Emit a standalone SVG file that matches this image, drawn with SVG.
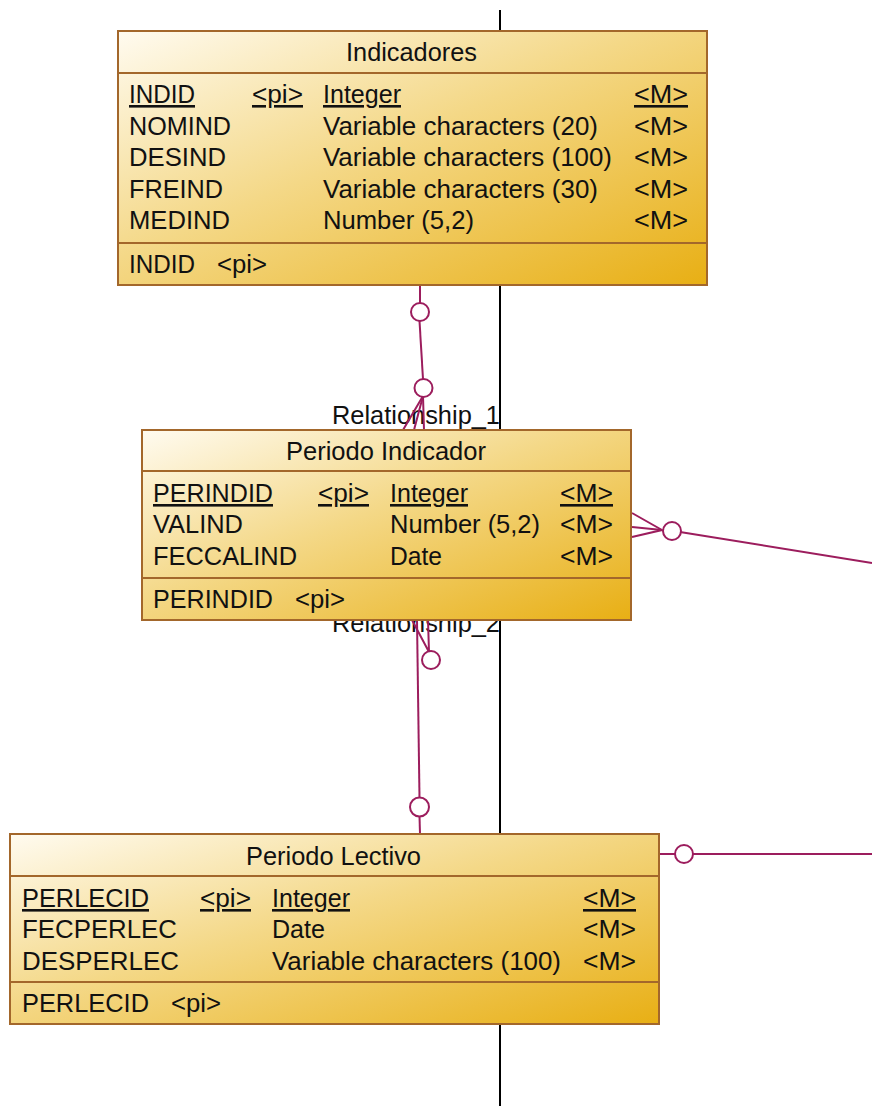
<svg xmlns="http://www.w3.org/2000/svg" width="872" height="1106" viewBox="0 0 872 1106">
<defs>
<linearGradient id="g" x1="0" y1="0" x2="1" y2="1">
<stop offset="0" stop-color="#FFFBF0"/>
<stop offset="0.45" stop-color="#F4D887"/>
<stop offset="1" stop-color="#E8AF14"/>
</linearGradient>
</defs>
<style>
.box{fill:url(#g);stroke:#A3672B;stroke-width:2}
.sep{stroke:#A3672B;stroke-width:2}
text{font-family:"Liberation Sans",Arial,sans-serif;font-size:26px;fill:#111}
.u{text-decoration:underline}
.c{fill:none;stroke:#9C1D5D;stroke-width:2}
.o{fill:#fff;stroke:#9C1D5D;stroke-width:2}
</style>
<rect width="872" height="1106" fill="#fff"/>
<line x1="500" y1="10" x2="500" y2="1106" stroke="#000" stroke-width="2"/>
<g id="labels">
<text x="332" y="424" textLength="168" lengthAdjust="spacingAndGlyphs">Relationship_1</text>
<text x="332" y="632" textLength="168" lengthAdjust="spacingAndGlyphs">Relationship_2</text>
</g>
<g id="connectors">
<line class="c" x1="420" y1="285" x2="420" y2="303"/>
<line class="c" x1="419.5" y1="321" x2="423" y2="379"/>
<circle class="o" cx="420" cy="312" r="9"/>
<polyline class="c" points="403,430 423,396 424,430"/>
<line class="c" x1="423" y1="396" x2="414" y2="430"/>
<circle class="o" cx="423.5" cy="388" r="9"/>
<line class="c" x1="417" y1="620" x2="419.5" y2="798"/>
<polyline class="c" points="412,620 429,652 428,620"/>
<circle class="o" cx="431" cy="660" r="9"/>
<line class="c" x1="419.5" y1="816" x2="420" y2="834"/>
<circle class="o" cx="419.5" cy="807" r="9.5"/>
<polyline class="c" points="632,513 662,530 632,537"/>
<line class="c" x1="632" y1="527" x2="662" y2="530"/>
<line class="c" x1="680" y1="532" x2="872" y2="563"/>
<circle class="o" cx="672" cy="531" r="9"/>
<line class="c" x1="659" y1="854" x2="675" y2="854"/>
<line class="c" x1="693" y1="854" x2="872" y2="854"/>
<circle class="o" cx="684" cy="854" r="9"/>
</g>
<g id="indicadores">
<rect class="box" x="118" y="31" width="589" height="254"/>
<line class="sep" x1="118" y1="73" x2="707" y2="73"/>
<line class="sep" x1="118" y1="243" x2="707" y2="243"/>
<text x="346" y="61" textLength="131" lengthAdjust="spacingAndGlyphs">Indicadores</text>
<text class="u" x="129" y="103" textLength="66" lengthAdjust="spacingAndGlyphs">INDID</text>
<text class="u" x="252" y="103" textLength="51" lengthAdjust="spacingAndGlyphs">&lt;pi&gt;</text>
<text class="u" x="323" y="103" textLength="78" lengthAdjust="spacingAndGlyphs">Integer</text>
<text class="u" x="634" y="103" textLength="54" lengthAdjust="spacingAndGlyphs">&lt;M&gt;</text>
<text x="129" y="135" textLength="102" lengthAdjust="spacingAndGlyphs">NOMIND</text>
<text x="323" y="135" textLength="275" lengthAdjust="spacingAndGlyphs">Variable characters (20)</text>
<text x="634" y="135" textLength="54" lengthAdjust="spacingAndGlyphs">&lt;M&gt;</text>
<text x="129" y="166" textLength="97" lengthAdjust="spacingAndGlyphs">DESIND</text>
<text x="323" y="166" textLength="289" lengthAdjust="spacingAndGlyphs">Variable characters (100)</text>
<text x="634" y="166" textLength="54" lengthAdjust="spacingAndGlyphs">&lt;M&gt;</text>
<text x="129" y="198" textLength="94" lengthAdjust="spacingAndGlyphs">FREIND</text>
<text x="323" y="198" textLength="275" lengthAdjust="spacingAndGlyphs">Variable characters (30)</text>
<text x="634" y="198" textLength="54" lengthAdjust="spacingAndGlyphs">&lt;M&gt;</text>
<text x="129" y="229" textLength="101" lengthAdjust="spacingAndGlyphs">MEDIND</text>
<text x="323" y="229" textLength="151" lengthAdjust="spacingAndGlyphs">Number (5,2)</text>
<text x="634" y="229" textLength="54" lengthAdjust="spacingAndGlyphs">&lt;M&gt;</text>
<text x="129" y="273" textLength="66" lengthAdjust="spacingAndGlyphs">INDID</text>
<text x="217" y="273" textLength="50" lengthAdjust="spacingAndGlyphs">&lt;pi&gt;</text>
</g>
<g id="periodo-indicador">
<rect class="box" x="142" y="430" width="489" height="190"/>
<line class="sep" x1="142" y1="471" x2="631" y2="471"/>
<line class="sep" x1="142" y1="578" x2="631" y2="578"/>
<text x="286" y="460" textLength="200" lengthAdjust="spacingAndGlyphs">Periodo Indicador</text>
<text class="u" x="153" y="502" textLength="120" lengthAdjust="spacingAndGlyphs">PERINDID</text>
<text class="u" x="318" y="502" textLength="51" lengthAdjust="spacingAndGlyphs">&lt;pi&gt;</text>
<text class="u" x="390" y="502" textLength="78" lengthAdjust="spacingAndGlyphs">Integer</text>
<text class="u" x="560" y="502" textLength="53" lengthAdjust="spacingAndGlyphs">&lt;M&gt;</text>
<text x="153" y="533" textLength="90" lengthAdjust="spacingAndGlyphs">VALIND</text>
<text x="390" y="533" textLength="150" lengthAdjust="spacingAndGlyphs">Number (5,2)</text>
<text x="560" y="533" textLength="53" lengthAdjust="spacingAndGlyphs">&lt;M&gt;</text>
<text x="153" y="565" textLength="144" lengthAdjust="spacingAndGlyphs">FECCALIND</text>
<text x="390" y="565" textLength="52" lengthAdjust="spacingAndGlyphs">Date</text>
<text x="560" y="565" textLength="53" lengthAdjust="spacingAndGlyphs">&lt;M&gt;</text>
<text x="153" y="608" textLength="120" lengthAdjust="spacingAndGlyphs">PERINDID</text>
<text x="295" y="608" textLength="50" lengthAdjust="spacingAndGlyphs">&lt;pi&gt;</text>
</g>
<g id="periodo-lectivo">
<rect class="box" x="10" y="834" width="649" height="190"/>
<line class="sep" x1="10" y1="876" x2="659" y2="876"/>
<line class="sep" x1="10" y1="982" x2="659" y2="982"/>
<text x="246" y="865" textLength="175" lengthAdjust="spacingAndGlyphs">Periodo Lectivo</text>
<text class="u" x="22" y="907" textLength="127" lengthAdjust="spacingAndGlyphs">PERLECID</text>
<text class="u" x="200" y="907" textLength="51" lengthAdjust="spacingAndGlyphs">&lt;pi&gt;</text>
<text class="u" x="272" y="907" textLength="78" lengthAdjust="spacingAndGlyphs">Integer</text>
<text class="u" x="583" y="907" textLength="53" lengthAdjust="spacingAndGlyphs">&lt;M&gt;</text>
<text x="22" y="938" textLength="155" lengthAdjust="spacingAndGlyphs">FECPERLEC</text>
<text x="272" y="938" textLength="53" lengthAdjust="spacingAndGlyphs">Date</text>
<text x="583" y="938" textLength="53" lengthAdjust="spacingAndGlyphs">&lt;M&gt;</text>
<text x="22" y="970" textLength="157" lengthAdjust="spacingAndGlyphs">DESPERLEC</text>
<text x="272" y="970" textLength="289" lengthAdjust="spacingAndGlyphs">Variable characters (100)</text>
<text x="583" y="970" textLength="53" lengthAdjust="spacingAndGlyphs">&lt;M&gt;</text>
<text x="22" y="1012" textLength="127" lengthAdjust="spacingAndGlyphs">PERLECID</text>
<text x="171" y="1012" textLength="50" lengthAdjust="spacingAndGlyphs">&lt;pi&gt;</text>
</g>
</svg>
